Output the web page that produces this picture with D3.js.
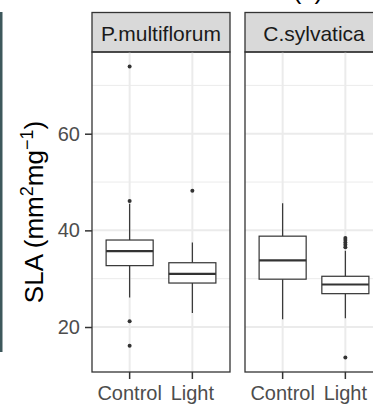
<!DOCTYPE html>
<html>
<head>
<meta charset="utf-8">
<script src="https://cdn.jsdelivr.net/npm/d3@7"></script>
<style>
  body { margin: 0; background: #fff; }
  svg { display: block; font-family: Arial, "Liberation Sans", sans-serif; }
</style>
</head>
<body>
<svg id="chart"></svg>
<script>
// facets and groups
const species = ["P.multiflorum", "C.sylvatica"];
const treatments = ["Control", "Light"];

// box stats per facet, per treatment: [lowerWhisker, q1, median, q3, upperWhisker]
const statsPm = [[26.1, 32.7, 35.7, 38.0, 45.5], [22.9, 29.1, 31.0, 33.3, 37.5]];
const statsCs = [[21.6, 29.9, 33.8, 38.8, 45.6], [21.8, 26.9, 28.8, 30.5, 35.8]];
const outliersPm = [[73.9, 46.1, 21.2, 16.1], [48.2]];
const outliersCs = [[], [38.4, 38.0, 37.5, 37.0, 36.5, 13.7]];

const yTicks = [20, 40, 60];
const yMinor = [30, 50, 70];

const W = 373, H = 406;
const panelW = 138, panelTop = 52, panelBottom = 372, stripTop = 12.5;
const panelX = [92, 245];
const dark = "#333333";

const svg = d3.select("#chart").attr("width", W).attr("height", H);

// left strip of neighbouring figure
svg.append("rect").attr("x", 0).attr("y", 12).attr("width", 2.5).attr("height", 340)
  .attr("fill", "#3e585c");

// partially visible title from above
svg.append("text").attr("x", 308).attr("y", -1).attr("text-anchor", "middle")
  .attr("font-size", 26).attr("fill", "#000").text("(c)");

const allVals = [statsPm, statsCs].flat(2).concat([outliersPm, outliersCs].flat(2));
const ext = d3.extent(allVals);
const pad = (ext[1] - ext[0]) * 0.05;
const y = d3.scaleLinear().domain([ext[0] - pad, ext[1] + pad]).range([panelBottom, panelTop]);

const x = d3.scalePoint().domain(treatments).range([0, panelW]).padding(0.6 * 2 / 2.2 * 1.1);
// exact ggplot discrete expansion: positions at 0.6/2.2 and 1.6/2.2 of the panel
x.range([0, panelW]);
const xPos = t => (treatments.indexOf(t) + 0.6) / 2.2 * panelW;
const boxW = 0.75 / 2.2 * panelW;

const facetStats = [statsPm, statsCs];
const facetOut = [outliersPm, outliersCs];

species.forEach((sp, fi) => {
  const g = svg.append("g").attr("transform", `translate(${panelX[fi]},0)`);

  // strip
  g.append("rect").attr("x", 0).attr("y", stripTop).attr("width", panelW)
    .attr("height", panelTop - stripTop).attr("fill", "#d9d9d9")
    .attr("stroke", dark).attr("stroke-width", 1.3);
  g.append("text").attr("x", panelW / 2).attr("y", 41).attr("text-anchor", "middle")
    .attr("font-size", 21).attr("fill", "#1a1a1a").text(sp);

  // grid
  g.selectAll(".minor").data(yMinor).join("line")
    .attr("x1", 0).attr("x2", panelW).attr("y1", d => y(d)).attr("y2", d => y(d))
    .attr("stroke", "#ebebeb").attr("stroke-width", 1);
  g.selectAll(".major").data(yTicks).join("line")
    .attr("x1", 0).attr("x2", panelW).attr("y1", d => y(d)).attr("y2", d => y(d))
    .attr("stroke", "#ebebeb").attr("stroke-width", 2);
  g.selectAll(".vmajor").data(treatments).join("line")
    .attr("x1", d => xPos(d)).attr("x2", d => xPos(d)).attr("y1", panelTop).attr("y2", panelBottom)
    .attr("stroke", "#ebebeb").attr("stroke-width", 2);

  // boxes
  treatments.forEach((t, ti) => {
    const s = facetStats[fi][ti];
    const cx = xPos(t);
    const bg = g.append("g");
    bg.append("line").attr("x1", cx).attr("x2", cx).attr("y1", y(s[0])).attr("y2", y(s[1]))
      .attr("stroke", dark).attr("stroke-width", 1.2);
    bg.append("line").attr("x1", cx).attr("x2", cx).attr("y1", y(s[3])).attr("y2", y(s[4]))
      .attr("stroke", dark).attr("stroke-width", 1.2);
    bg.append("rect").attr("x", cx - boxW / 2).attr("width", boxW)
      .attr("y", y(s[3])).attr("height", y(s[1]) - y(s[3]))
      .attr("fill", "#fff").attr("stroke", dark).attr("stroke-width", 1.2);
    bg.append("line").attr("x1", cx - boxW / 2).attr("x2", cx + boxW / 2)
      .attr("y1", y(s[2])).attr("y2", y(s[2])).attr("stroke", dark).attr("stroke-width", 2.2);
    bg.selectAll("circle").data(facetOut[fi][ti]).join("circle")
      .attr("cx", cx).attr("cy", d => y(d)).attr("r", 2).attr("fill", dark);
  });

  // border
  g.append("rect").attr("x", 0).attr("y", panelTop).attr("width", panelW)
    .attr("height", panelBottom - panelTop).attr("fill", "none")
    .attr("stroke", dark).attr("stroke-width", 1.3);

  // x axis
  const xa = g.append("g");
  treatments.forEach(t => {
    xa.append("line").attr("x1", xPos(t)).attr("x2", xPos(t))
      .attr("y1", panelBottom).attr("y2", panelBottom + 7)
      .attr("stroke", dark).attr("stroke-width", 1.5);
    xa.append("text").attr("x", xPos(t)).attr("y", 400).attr("text-anchor", "middle")
      .attr("font-size", 20).attr("fill", "#4d4d4d").text(t);
  });
});

// y axis
const yAxis = d3.axisLeft(y).tickValues(yTicks).tickSize(7).tickPadding(5);
const ya = svg.append("g").attr("transform", `translate(${panelX[0]},0)`).call(yAxis);
ya.select(".domain").remove();
ya.selectAll(".tick line").attr("stroke", dark).attr("stroke-width", 1.5);
ya.selectAll(".tick text").attr("font-size", 20).attr("fill", "#4d4d4d")
  .attr("font-family", "Arial, 'Liberation Sans', sans-serif");

// y title
const yt = svg.append("text")
  .attr("transform", `translate(43,${(panelTop + panelBottom) / 2}) rotate(-90)`)
  .attr("text-anchor", "middle").attr("font-size", 26).attr("fill", "#000");
yt.append("tspan").text("SLA (mm");
yt.append("tspan").attr("font-size", 18).attr("dy", -10).text("2");
yt.append("tspan").attr("dy", 10).text("mg");
yt.append("tspan").attr("font-size", 18).attr("dy", -10).text("\u22121");
yt.append("tspan").attr("dy", 10).text(")");
</script>
</body>
</html>
